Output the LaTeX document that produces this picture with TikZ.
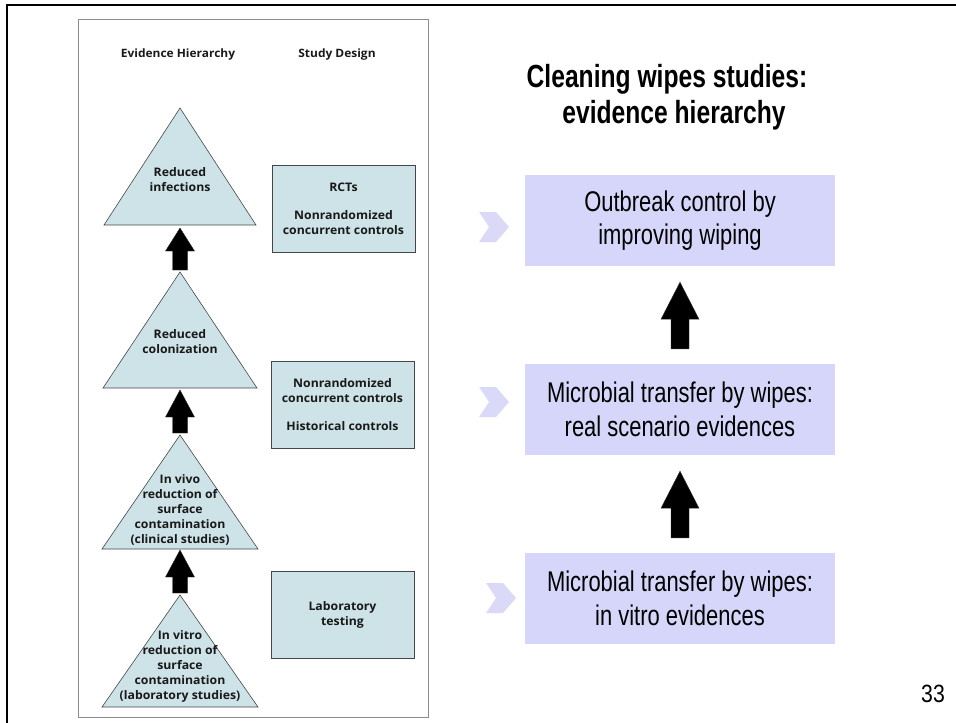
\documentclass[tikz,border=0pt]{standalone}
\usepackage{fontspec}
\usetikzlibrary{calc}
\newfontfamily\panelfont[FakeStretch=1.04]{Open Sans}
\newfontfamily\slidefont[FakeStretch=0.77]{Liberation Sans}
\newfontfamily\numfont[FakeStretch=0.85]{Liberation Sans}
\definecolor{panelfill}{RGB}{205,227,232}
\definecolor{panelline}{RGB}{70,70,70}
\definecolor{framegray}{RGB}{140,140,140}
\definecolor{boxfill}{RGB}{214,214,250}
\definecolor{chevfill}{RGB}{218,218,248}
% block arrow: #1 from (bottom) #2 to (tip), #3 shaft half width, #4 head half width, #5 head length, #6 gap at start, #7 gap at end
\newcommand{\blkarrow}[7]{%
  \fill[black,draw=black!80,line width=0.4pt] let \p1=(#1), \p2=(#2) in
   (\x1-#3,\y1+#6) -- (\x1-#3,\y2-#7-#5) -- (\x1-#4,\y2-#7-#5) -- (\x1,\y2-#7)
   -- (\x1+#4,\y2-#7-#5) -- (\x1+#3,\y2-#7-#5) -- (\x1+#3,\y1+#6) -- cycle;}
\begin{document}
\begin{tikzpicture}[x=1pt,y=-1pt,
  tri/.style={draw=panelline,fill=panelfill,line width=0.6pt},
  tritext/.style={font=\panelfont\bfseries\fontsize{11.8}{15}\selectfont,align=center,text=black!90,inner sep=0pt},
  designbox/.style={draw=panelline,fill=panelfill,line width=0.6pt,minimum width=143pt,minimum height=87pt,font=\panelfont\bfseries\fontsize{11.8}{15}\selectfont,align=center,text=black!90,inner sep=0pt},
  header/.style={font=\panelfont\bfseries\fontsize{11.5}{15}\selectfont,text=black!90,inner sep=0pt},
  slidebox/.style={fill=boxfill,minimum width=310pt,minimum height=91pt,font=\slidefont\fontsize{28.5}{33.5}\selectfont,align=center,inner sep=0pt},
  chev/.style={fill=chevfill}
]
\useasboundingbox (0,0) rectangle (956,723);
% outer slide lines
\draw[line width=1.6pt] (956,5) -- (7,5) -- (7,723);
% inner panel frame
\draw[framegray,line width=1pt] (78,19.5) rectangle (428,717);

% headers
\node[header] (hEH) at (178,55) {Evidence Hierarchy};
\node[header] (hSD) at (337,55) {Study Design};

% triangles
\coordinate (t1a) at (180,108); \coordinate (t1b) at (180,225);
\coordinate (t2a) at (180,272); \coordinate (t2b) at (180,388);
\coordinate (t3a) at (180,435); \coordinate (t3b) at (180,549);
\coordinate (t4a) at (180,595); \coordinate (t4b) at (180,707);
\draw[tri] (t1a) -- ($(t1b)+(76,0)$) -- ($(t1b)+(-76,0)$) -- cycle;
\draw[tri] (t2a) -- ($(t2b)+(77,0)$) -- ($(t2b)+(-77,0)$) -- cycle;
\draw[tri] (t3a) -- ($(t3b)+(78,0)$) -- ($(t3b)+(-78,0)$) -- cycle;
\draw[tri] (t4a) -- ($(t4b)+(78,0)$) -- ($(t4b)+(-78,0)$) -- cycle;

\node[tritext] (tx1) at (180,180) {Reduced\\infections};
\node[tritext] (tx2) at (180,342) {Reduced\\colonization};
\node[tritext] (tx3) at (180,510) {In vivo\\reduction of\\surface\\contamination\\(clinical studies)};
\node[tritext] (tx4) at (180,666) {In vitro\\reduction of\\surface\\contamination\\(laboratory studies)};

% block arrows between triangles
\blkarrow{t2a}{t1b}{7.5pt}{14.5pt}{23pt}{2pt}{3pt}
\blkarrow{t3a}{t2b}{7.5pt}{14.5pt}{27pt}{2pt}{2pt}
\blkarrow{t4a}{t3b}{7.5pt}{14.5pt}{27pt}{2pt}{1pt}

% study design boxes
\node[designbox] (sd1) at (343.5,208.5) {RCTs\\[13pt]Nonrandomized\\concurrent controls};
\node[designbox] (sd2) at (342.5,404.5) {Nonrandomized\\concurrent controls\\[13pt]Historical controls};
\node[designbox] (sd3) at (342.5,615) {Laboratory\\testing};

% right side title
\node[font=\slidefont\bfseries\fontsize{32}{36}\selectfont,align=center,inner sep=0pt] (title) at (667,97)
  {Cleaning wipes studies:\\\hspace*{14pt}evidence hierarchy};

% right side boxes
\node[slidebox] (r1) at (680,220.5) {Outbreak control by\\improving wiping};
\node[slidebox] (r2) at (680,409.5) {Microbial transfer by wipes:\\real scenario evidences};
\node[slidebox] (r3) at (680,598.5) {Microbial transfer by wipes:\\in vitro evidences};

% chevrons
\foreach \n/\cx/\cy in {c1/494/227, c2/494/402, c3/501/598}{
  \fill[chev] (\cx-15,\cy-15) -- (\cx+2,\cy-15) -- (\cx+15,\cy) -- (\cx+2,\cy+15) -- (\cx-15,\cy+15) -- (\cx-5,\cy) -- cycle;
}

% right arrows
\blkarrow{r2.north}{r1.south}{9pt}{19pt}{37pt}{15pt}{16pt}
\blkarrow{r3.north}{r2.south}{9pt}{19pt}{37pt}{15pt}{16pt}

% page number
\node[font=\numfont\fontsize{25}{28}\selectfont,inner sep=0pt] (pnum) at (933,694) {33};
\end{tikzpicture}
\end{document}
